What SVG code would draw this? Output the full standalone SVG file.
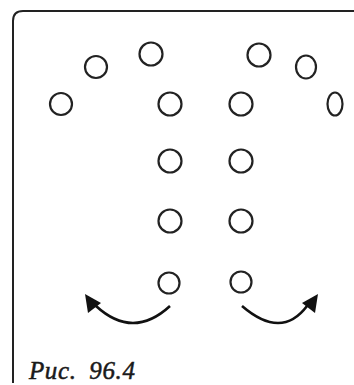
<svg xmlns="http://www.w3.org/2000/svg" width="354" height="385" viewBox="0 0 354 385">
<style>
.c{fill:none;stroke:#222;stroke-width:2.2}
.a{fill:none;stroke:#111;stroke-width:2.6}
.h{fill:#111}
.t{font-family:"Liberation Serif",serif;font-style:italic;font-size:25px;fill:#1a1a1a;stroke:#1a1a1a;stroke-width:0.5}
</style>
<rect width="354" height="385" fill="#fff"/>
<path d="M13,383 Q13,380 13,376 L13,21 Q13,11 23,11 L354,11" fill="none" stroke="#222" stroke-width="2"/>
<g id="n1"><circle class="c" cx="61" cy="104" r="11"/></g>
<g id="n2"><circle class="c" cx="96" cy="67" r="11"/></g>
<g id="n3"><circle class="c" cx="151" cy="54" r="11.5"/></g>
<g id="n4"><circle class="c" cx="170" cy="104" r="11.5"/></g>
<g id="n5"><circle class="c" cx="170" cy="161" r="11.5"/></g>
<g id="n6"><circle class="c" cx="170" cy="221" r="11.5"/></g>
<g id="n7"><circle class="c" cx="169" cy="283" r="10.5"/></g>
<g id="n8"><circle class="c" cx="241" cy="104" r="11.5"/></g>
<g id="n9"><circle class="c" cx="241" cy="161" r="11.5"/></g>
<g id="n10"><circle class="c" cx="241" cy="221" r="11.5"/></g>
<g id="n11"><circle class="c" cx="241" cy="282" r="10.5"/></g>
<g id="n12"><circle class="c" cx="259" cy="55" r="11.5"/></g>
<g id="n13"><ellipse class="c" cx="306" cy="67" rx="10" ry="11.5"/></g>
<g id="n14"><ellipse class="c" cx="335" cy="104" rx="7.5" ry="11.5"/></g>
<g id="connectors">
<path class="a" d="M170,306 Q133,340 96,306"/>
<polygon class="h" points="85,294 88,313 101,303"/>
<path class="a" d="M242,306 Q281.5,340 307,306"/>
<polygon class="h" points="318,294 315,313 302,303"/>
</g>
<text class="t" x="29" y="379" word-spacing="6" letter-spacing="0.6">Рис. 96.4</text>
</svg>
